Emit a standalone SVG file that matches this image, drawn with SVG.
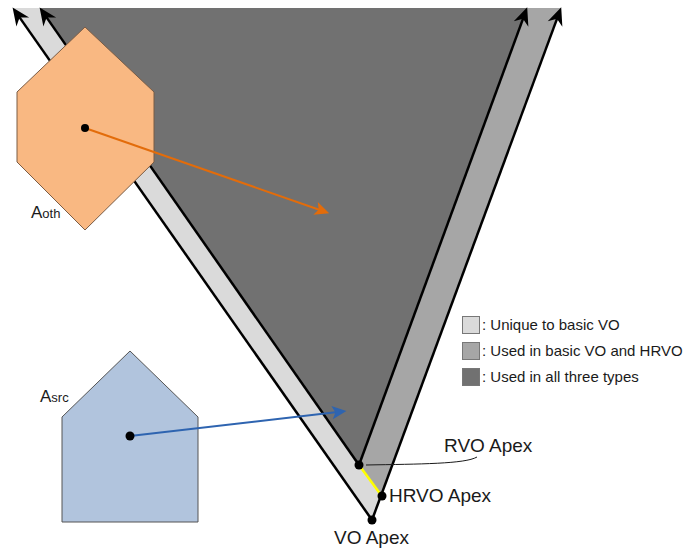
<svg xmlns="http://www.w3.org/2000/svg" width="688" height="550" viewBox="0 0 688 550">
<style>
text{font-family:"Liberation Sans",Arial,sans-serif;fill:#1a1a1a}
.lbl{font-size:17px}
.apx{font-size:19px}
.leg{font-size:15px}
.edge{stroke:#000;stroke-width:2.5;fill:none;marker-end:url(#ah)}
.dot{fill:#000}
</style>
<defs>
<marker id="ah" markerUnits="userSpaceOnUse" markerWidth="20" markerHeight="20" viewBox="-10 -8 18 16" refX="0" refY="0" orient="auto" overflow="visible">
<path d="M6,0 L-10,-7 L-5,0 L-10,7 Z" fill="#000"/>
</marker>
<marker id="ahO" markerUnits="userSpaceOnUse" markerWidth="20" markerHeight="20" viewBox="-10 -8 18 16" refX="0" refY="0" orient="auto" overflow="visible">
<path d="M4,0 L-9,-6 L-6,0 L-9,6 Z" fill="#e36c0a"/>
</marker>
<marker id="ahB" markerUnits="userSpaceOnUse" markerWidth="20" markerHeight="20" viewBox="-10 -8 18 16" refX="0" refY="0" orient="auto" overflow="visible">
<path d="M4,0 L-9,-6 L-6,0 L-9,6 Z" fill="#2e64b0"/>
</marker>
</defs>
<g id="regions">
<polygon id="vo" points="372,520 13,8 561,8" fill="#dadada"/>
<polygon id="hrvo" points="381,495 359,465 527,8 561,8" fill="#a6a6a6"/>
<polygon id="rvo" points="359,465 40,8 527,8" fill="#717171"/>
</g>
<g id="connectors">
<line x1="359" y1="465" x2="381" y2="495" stroke="#ffff00" stroke-width="2.5"/>
<line class="edge" x1="372" y1="520" x2="16.4" y2="12.9"/>
<line class="edge" x1="359" y1="465" x2="43.4" y2="12.9"/>
<line class="edge" x1="359" y1="465" x2="524.9" y2="13.6"/>
<line class="edge" x1="372" y1="520" x2="558.9" y2="13.6"/>
</g>
<g id="A_oth">
<polygon points="85,27 154,92 154,162 85,230 17,162 17,92" fill="#f9b882" stroke="#7a5c45" stroke-width="1"/>
<text class="lbl" x="31" y="218">A<tspan font-size="13">oth</tspan></text>
</g>
<g id="A_src">
<polygon points="130,351 198,417 198,522 62,522 62,417" fill="#b1c4dd" stroke="#555" stroke-width="1"/>
<text class="lbl" x="40" y="402">A<tspan font-size="13">src</tspan></text>
</g>
<g id="velocities">
<line x1="85" y1="128" x2="325" y2="211.7" stroke="#e36c0a" stroke-width="2" marker-end="url(#ahO)"/>
<line x1="130" y1="436" x2="342" y2="411.5" stroke="#2e64b0" stroke-width="2" marker-end="url(#ahB)"/>
<circle class="dot" cx="85" cy="128" r="4"/>
<circle class="dot" cx="130" cy="436" r="4.5"/>
</g>
<g id="apexes">
<path d="M366,465 C420,464 465,464 477,457" fill="none" stroke="#1a1a1a" stroke-width="1"/>
<circle class="dot" cx="359" cy="465" r="4.5"/>
<circle class="dot" cx="382" cy="496" r="4.5"/>
<circle class="dot" cx="372" cy="520" r="4.5"/>
<text class="apx" x="444" y="452">RVO Apex</text>
<text class="apx" x="389" y="502">HRVO Apex</text>
<text class="apx" x="334" y="544">VO Apex</text>
</g>
<g id="legend">
<rect x="462.5" y="316.5" width="17" height="17" fill="#dadada" stroke="#777"/>
<rect x="462.5" y="342.5" width="17" height="17" fill="#a6a6a6" stroke="#777"/>
<rect x="462.5" y="368.5" width="17" height="17" fill="#717171" stroke="#777"/>
<text class="leg" x="482" y="330">: Unique to basic VO</text>
<text class="leg" x="482" y="356">: Used in basic VO and HRVO</text>
<text class="leg" x="482" y="382">: Used in all three types</text>
</g>
</svg>
